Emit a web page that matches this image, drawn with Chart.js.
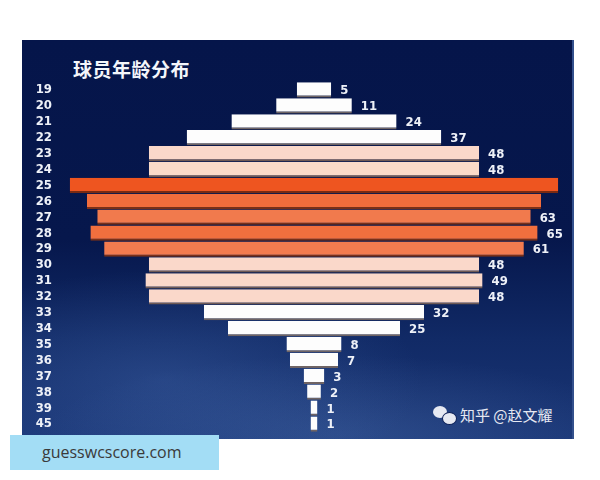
<!DOCTYPE html>
<html><head><meta charset="utf-8">
<script src="https://cdn.jsdelivr.net/npm/chart.js@4/dist/chart.umd.min.js"></script>
<style>
html,body{margin:0;padding:0;background:#fff;width:600px;height:480px;overflow:hidden;}
#panel{position:absolute;left:22px;top:40px;width:550px;height:399px;
 background:
  radial-gradient(ellipse 260px 110px at 140px 340px, rgba(80,120,190,0.30), rgba(0,0,0,0)),
  radial-gradient(ellipse 300px 80px at 320px 395px, rgba(100,140,200,0.25), rgba(0,0,0,0)),
  linear-gradient(to bottom,#05154a 0%,#06174c 50%,#112a66 75%,#1a3676 100%);
 border-right:2px solid #33508c;}
#title{position:absolute;left:73px;top:55px;font-family:"Noto Sans CJK SC",sans-serif;font-weight:bold;font-size:19px;color:#f4f6fb;letter-spacing:0.5px;}
#wm{position:absolute;left:433px;top:404px;font-family:"Noto Sans CJK SC",sans-serif;font-size:15px;color:#e6e9f2;display:flex;align-items:center;gap:5px;}
#wm .ic{position:relative;width:22px;height:18px;}
#wm .ic span{position:absolute;border-radius:50%;background:#e6e9f2;}
#site{position:absolute;left:10px;top:435px;width:209px;height:35px;background:#a3ddf5;}
#site div{position:absolute;left:32px;top:6px;font-family:"Open Sans",sans-serif;font-size:16px;color:#3a3a3a;}
canvas{position:absolute;left:0;top:0;}
</style></head>
<body>
<div id="panel"></div>
<div id="title">球员年龄分布</div>
<div id="wm"><div class="ic"><span style="left:0;top:0;width:14px;height:12px"></span><span style="left:9px;top:6px;width:13px;height:11px;border:1px solid #0a1d55"></span></div><span>知乎 @赵文耀</span></div>
<div id="site"><div>guesswcscore.com</div></div>
<canvas id="c" width="600" height="480"></canvas>
<script>
const ages = ['19','20','21','22','23','24','25','26','27','28','29','30','31','32','33','34','35','36','37','38','39','45'];
const counts = [5,11,24,37,48,48,71,66,63,65,61,48,49,48,32,25,8,7,3,2,1,1];
const valueLabels = ['5','11','24','37','48','48','','','63','65','61','48','49','48','32','25','8','7','3','2','1','1'];
const barColors = ['#fdfdfd','#fdfdfd','#fdfdfd','#fdfdfd','#fad8ca','#fadbc9','#ee5520','#f26d3c','#f17a4d','#f16f3e','#f27b4f','#fad8ca','#fad8ca','#fad8ca','#fdfdfd','#fdfdfd','#fdfdfd','#fdfdfd','#fdfdfd','#fdfdfd','#fdfdfd','#fdfdfd'];
const edgeColors = ['#6f6464','#6f6464','#6f6464','#6f6464','#6f5a55','#6f5a55','#7a2a12','#7a3018','#7a3018','#7a3018','#7a3018','#6f5a55','#6f5a55','#6f5a55','#6f6464','#6f6464','#6f6464','#6f6464','#6f6464','#6f6464','#6f6464','#6f6464'];

const FONT = '"DejaVu Sans Condensed","Liberation Sans Narrow","Roboto Condensed",sans-serif';

const valuePlugin = {
  id:'valuePlugin',
  afterDatasetsDraw(chart){
    const ctx = chart.ctx;
    const meta = chart.getDatasetMeta(0);
    ctx.save();
    ctx.font = 'bold 13px ' + FONT;
    ctx.fillStyle = '#eef1f8';
    ctx.textBaseline = 'middle';
    ctx.textAlign = 'left';
    meta.data.forEach((el,i)=>{
      const right = Math.max(el.x, el.base);
      ctx.fillText(valueLabels[i], right + 9, el.y + 1);
    });
    ctx.restore();
  }
};

new Chart(document.getElementById('c'), {
  type:'bar',
  data:{
    labels: ages,
    datasets:[{
      data: counts.map(v => [-v/2, v/2]),
      backgroundColor: barColors,
      borderColor: edgeColors,
      borderWidth: {top:0,left:0,right:0,bottom:2},
      borderSkipped: false,
      barPercentage: 0.96,
      categoryPercentage: 1.0
    }]
  },
  options:{
    indexAxis:'y',
    responsive:false,
    animation:false,
    layout:{padding:{left:22,right:28,top:82,bottom:48}},
    plugins:{legend:{display:false},tooltip:{enabled:false},title:{display:false}},
    scales:{
      x:{display:false,min:-37.5,max:37.5},
      y:{
        grid:{display:false,drawTicks:false},
        border:{display:false},
        afterFit(s){ s.width = 34; },
        ticks:{autoSkip:false,color:'#eef1f8',padding:4,font:{family:FONT,weight:'bold',size:13}}
      }
    }
  },
  plugins:[valuePlugin]
});
</script>
</body></html>
